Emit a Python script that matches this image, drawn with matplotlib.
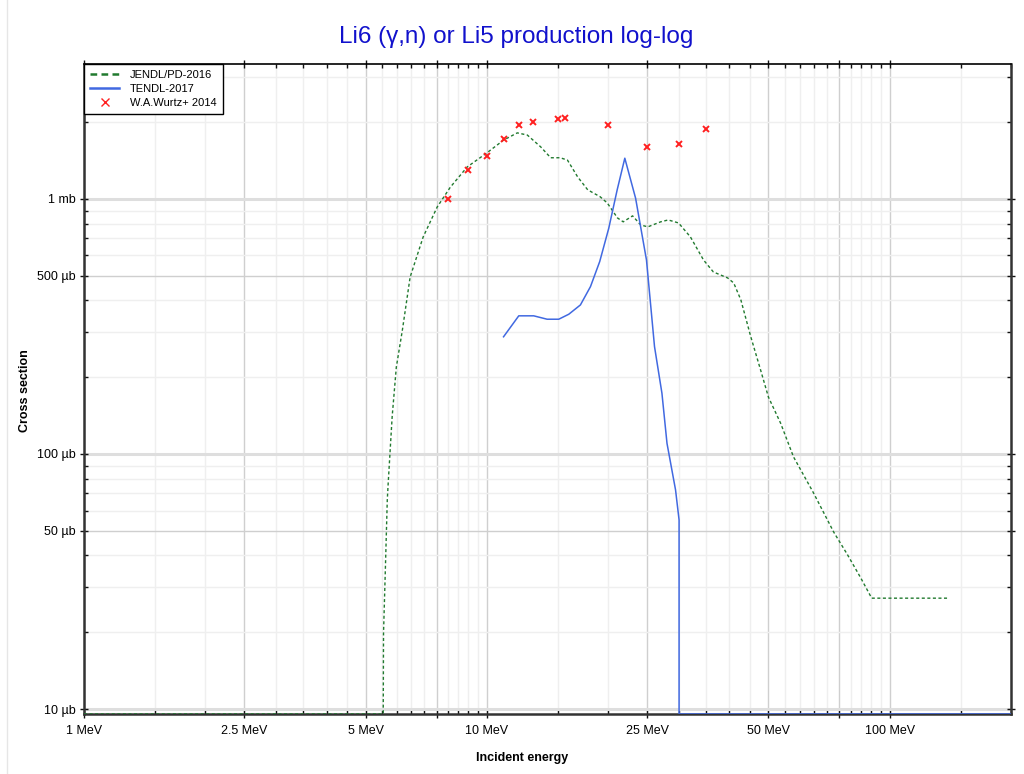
import numpy as np
import matplotlib
matplotlib.use('Agg')
import matplotlib.pyplot as plt
from matplotlib.ticker import FixedLocator, FixedFormatter, NullFormatter
from matplotlib.lines import Line2D

plt.rcParams['font.family'] = ['Liberation Sans', 'DejaVu Sans']

# ---------------- data (energy in MeV, cross section in mb) ----------------
jendl_E = [1.0, 5.5, 5.53, 5.54, 5.60, 5.66, 5.69, 5.82, 5.96, 6.17, 6.45, 6.95,
           7.53, 8.11, 8.94, 10.0, 11.0, 11.9, 12.6, 13.6, 14.4, 15.2, 15.85,
           16.8, 17.8, 19.1, 19.9, 21.1, 21.8, 23.0, 24.1, 25.1, 27.0, 28.2,
           29.9, 32.0, 34.5, 36.5, 39.6, 41.0, 42.7, 45.2, 47.8, 50.0, 53.6,
           57.7, 64.7, 72.6, 78.6, 84.7, 90.2, 140.0]
jendl_xs = [0.0, 0.0, 0.0095, 0.0199, 0.036, 0.066, 0.077, 0.140, 0.219, 0.306,
            0.494, 0.71, 0.93, 1.11, 1.335, 1.515, 1.70, 1.815, 1.78, 1.60,
            1.45, 1.45, 1.42, 1.22, 1.085, 1.02, 0.964, 0.842, 0.813, 0.858,
            0.79, 0.777, 0.813, 0.827, 0.805, 0.71, 0.576, 0.517, 0.49, 0.468,
            0.402, 0.288, 0.2135, 0.167, 0.132, 0.0974, 0.0703, 0.0494, 0.0402,
            0.0327, 0.0272, 0.0272]

tendl_E = [11.0, 12.0, 13.07, 14.11, 15.08, 15.97, 17.07, 18.08, 19.06, 20.07,
           21.06, 22.0, 23.4, 24.9, 26.07, 27.2, 28.0, 29.4, 30.0, 30.0, 200.0]
tendl_xs = [0.288, 0.348, 0.348, 0.3375, 0.3375, 0.353, 0.384, 0.453, 0.568,
            0.767, 1.085, 1.444, 1.006, 0.576, 0.2636, 0.173, 0.110, 0.0723,
            0.0551, 0.0, 0.0]

wurtz_E = [8.0, 9.0, 10.0, 11.0, 12.0, 13.0, 15.0, 15.6, 20.0, 25.0, 30.0, 35.0]
wurtz_xs = [1.0, 1.296, 1.474, 1.724, 1.95, 2.0, 2.065, 2.07, 1.94, 1.60, 1.64, 1.88]

series_labels = ['JENDL/PD-2016', 'TENDL-2017', 'W.A.Wurtz+ 2014']

x_major = [1, 2.5, 5, 7.5, 10, 25, 50, 75, 100]
x_major_labels = ['1 MeV', '2.5 MeV', '5 MeV', '', '10 MeV', '25 MeV', '50 MeV', '', '100 MeV']
y_major = [0.01, 0.05, 0.1, 0.5, 1.0]
y_major_labels = ['10 µb', '50 µb', '100 µb', '500 µb', '1 mb']

title = 'Li6 (γ,n) or Li5 production log-log'
xlabel = 'Incident energy'
ylabel = 'Cross section'

x_lim = (1.0, 200.0)
y_lim = (0.00956, 3.38)

# ---------------- figure ----------------
W, H = 1024, 774
fig = plt.figure(figsize=(W / 100, H / 100), dpi=100)
ax = fig.add_axes([84 / W, 1 - 714 / H, (1011 - 84) / W, (714 - 64) / H])
ax.set_xscale('log')
ax.set_yscale('log')
ax.set_xlim(*x_lim)
ax.set_ylim(*y_lim)

# ticks
x_minor = [v for v in list(np.arange(1.5, 10, 0.5)) + list(range(15, 100, 5)) + [150, 200]
           if not any(abs(v - m) < 1e-9 for m in x_major)]
y_minor = [d * k for d in (0.01, 0.1, 1.0) for k in range(1, 10)
           if not any(abs(d * k - m) < 1e-12 for m in y_major)]

ax.xaxis.set_major_locator(FixedLocator(x_major))
ax.xaxis.set_major_formatter(FixedFormatter(x_major_labels))
ax.xaxis.set_minor_locator(FixedLocator(x_minor))
ax.xaxis.set_minor_formatter(NullFormatter())
ax.yaxis.set_major_locator(FixedLocator(y_major))
ax.yaxis.set_major_formatter(FixedFormatter(y_major_labels))
ax.yaxis.set_minor_locator(FixedLocator(y_minor))
ax.yaxis.set_minor_formatter(NullFormatter())

ax.tick_params(which='major', direction='inout', length=6, width=1, color='#111111',
               labelsize=9, pad=3, top=True, right=True)
ax.tick_params(which='minor', direction='in', length=3, width=1, color='#111111',
               top=True, right=True)
ax.tick_params(axis='x', which='major', pad=5)

ax.grid(which='major', color='#cfcfcf', lw=1)
ax.grid(which='minor', color='#efefef', lw=1)
ax.set_axisbelow(True)
for t, v in zip(ax.yaxis.get_major_ticks(), y_major):
    if abs(np.log10(v) - round(np.log10(v))) < 1e-6:
        t.gridline.set_linewidth(2.2)
        t.gridline.set_color('#dedede')

for s in ['left', 'bottom', 'right']:
    ax.spines[s].set_linewidth(1.8)
    ax.spines[s].set_color('#333333')
ax.spines['top'].set_linewidth(1.2)
ax.spines['top'].set_color('#000000')

green = '#217a2f'
blue = '#4169e1'
red = '#ff2020'

ylo = y_lim[0]
ax.plot(jendl_E, np.maximum(jendl_xs, ylo), color=green, lw=1.0,
        linestyle=(0, (2.2, 1.8)), zorder=3)
ax.plot(tendl_E, np.maximum(tendl_xs, ylo), color=blue, lw=1.1, zorder=3)
ax.plot(wurtz_E, wurtz_xs, linestyle='none', marker='x', color=red,
        markersize=4.0, markeredgewidth=1.4, zorder=4)

handles = [Line2D([], [], color=green, lw=1.8, linestyle=(0, (2.68, 1.72))),
           Line2D([], [], color=blue, lw=1.8),
           Line2D([], [], color=red, linestyle='none', marker='x', markersize=6,
                  markeredgewidth=1.0)]
leg = ax.legend(handles, series_labels, loc='upper left', bbox_to_anchor=(0, 1),
                borderaxespad=0, fontsize=8, frameon=True, fancybox=False,
                edgecolor='black', framealpha=1, handlelength=2.6,
                handletextpad=1.0, borderpad=0.55, labelspacing=0.36)
leg.get_frame().set_linewidth(1.0)

fig.text(516 / W, 1 - 37 / H, title, ha='center', va='center', fontsize=17.5,
         color='#1111cc')
fig.text(522 / W, 1 - 758 / H, xlabel, ha='center', va='center', fontsize=9,
         fontweight='bold')
fig.text(25 / W, 1 - 391 / H, ylabel, ha='center', va='center', fontsize=9,
         fontweight='bold', rotation=90)

fig.add_artist(Line2D([7 / W, 7 / W], [0, 1], transform=fig.transFigure,
                      color='#e6e6e6', lw=1))

fig.savefig('out.png', dpi=100)
